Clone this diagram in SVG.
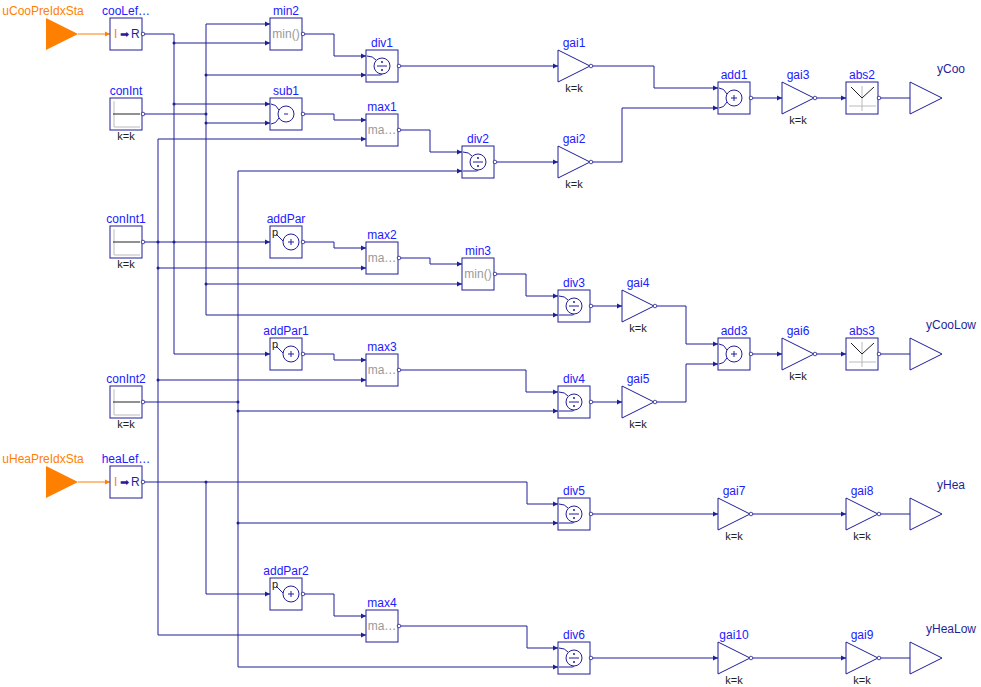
<svg xmlns="http://www.w3.org/2000/svg" xmlns:xlink="http://www.w3.org/1999/xlink" width="981" height="687" viewBox="0 0 981 687">
<style>
text{font-family:"Liberation Sans",Arial,sans-serif}
.nm{fill:#2020ff;font-size:12px;text-anchor:middle}
.kk{fill:#222;font-size:11px;text-anchor:middle}
.og{fill:#ff8000;font-size:12px;text-anchor:middle}
.bx{fill:#fff;stroke:#1f1f99;stroke-width:1}
.sy{fill:none;stroke:#1f1f99;stroke-width:1}
.gr{fill:#9a9a9a;font-size:12px;text-anchor:middle}
.w{fill:none;stroke:#1f1f99;stroke-width:1}
.wo{fill:none;stroke:#ff8000;stroke-width:1}
.dt{fill:#1f1f99}
</style>
<defs>
<marker id="ar" markerUnits="userSpaceOnUse" markerWidth="6" markerHeight="6" refX="5" refY="3" orient="auto"><path d="M0,0.5 L5,3 L0,5.5z" fill="#1f1f99"/></marker>
<marker id="ao" markerUnits="userSpaceOnUse" markerWidth="6" markerHeight="6" refX="5" refY="3" orient="auto"><path d="M0,0.5 L5,3 L0,5.5z" fill="#ff8000"/></marker>
<g id="box"><rect class="bx" x="0" y="0" width="32" height="32"/><circle cx="33" cy="16" r="1.8" fill="#fff" stroke="#1f1f99" stroke-width="0.8"/></g>
<g id="div"><use href="#box"/><circle class="sy" cx="16" cy="16" r="8"/><path class="sy" d="M1,6 Q7,6 10,10 M1,25 H14 Q16,25 16,24 M11,16 H21"/><circle cx="16" cy="12" r="1" class="dt"/><circle cx="16" cy="20" r="1" class="dt"/></g>
<g id="add"><use href="#box"/><circle class="sy" cx="16" cy="16" r="8"/><path class="sy" d="M1,6 Q6,6 9,12 M1,26 Q6,26 9,20 M13,16 H19 M16,13 V19" stroke="#222"/></g>
<g id="addp"><use href="#box"/><circle class="sy" cx="21" cy="16" r="8"/><path class="sy" d="M6,8 L13,15 M18,16 H24 M21,13 V19"/><text x="2" y="10" style="font-size:11px;fill:#222">p</text></g>
<g id="gain"><path class="sy" d="M0,0 L32,16 L0,32z" fill="#fff"/><circle cx="33" cy="16" r="1.8" fill="#fff" stroke="#1f1f99" stroke-width="0.8"/></g>
<g id="ci"><use href="#box"/><path d="M4,29 H30 M4,29 V3" stroke="#bbb" fill="none"/><path d="M3,16 H30" stroke="#222"/></g>
<g id="abs"><use href="#box"/><path d="M3,24 H30 M16,29 V4" stroke="#bbb" fill="none"/><path d="M5,5 L16,16 L28,5" stroke="#222" fill="none"/></g>
<g id="yout"><path class="sy" d="M0,0 L32,16 L0,32z"/></g>
</defs>

<g id="connectors">
<path class="wo" d="M78,34 H110" marker-end="url(#ao)"/>
<path class="wo" d="M78,482 H110" marker-end="url(#ao)"/>
<path class="w" d="M143,34 H174 V354 H270" marker-end="url(#ar)"/>
<path class="w" d="M174,43 H270" marker-end="url(#ar)"/>
<path class="w" d="M174,104 H270" marker-end="url(#ar)"/>
<path class="w" d="M143,242 H270" marker-end="url(#ar)"/>
<path class="w" d="M143,114 H206"/>
<path class="w" d="M206,24 V315 H558" marker-end="url(#ar)"/>
<path class="w" d="M206,24 H270" marker-end="url(#ar)"/>
<path class="w" d="M206,75 H366" marker-end="url(#ar)"/>
<path class="w" d="M206,123 H270" marker-end="url(#ar)"/>
<path class="w" d="M206,284 H462" marker-end="url(#ar)"/>
<path class="w" d="M158,139 V635 H366" marker-end="url(#ar)"/>
<path class="w" d="M158,139 H366" marker-end="url(#ar)"/>
<path class="w" d="M158,268 H366" marker-end="url(#ar)"/>
<path class="w" d="M158,380 H366" marker-end="url(#ar)"/>
<path class="w" d="M143,402 H238"/>
<path class="w" d="M238,171 V667 H558" marker-end="url(#ar)"/>
<path class="w" d="M238,171 H462" marker-end="url(#ar)"/>
<path class="w" d="M238,411 H558" marker-end="url(#ar)"/>
<path class="w" d="M238,523 H558" marker-end="url(#ar)"/>
<path class="w" d="M143,482 H527 V504 H558" marker-end="url(#ar)"/>
<path class="w" d="M206,482 V594 H270" marker-end="url(#ar)"/>
<path class="w" d="M302,34 H334 V56 H366" marker-end="url(#ar)"/>
<path class="w" d="M302,114 H334 V120 H366" marker-end="url(#ar)"/>
<path class="w" d="M398,130 H430 V152 H462" marker-end="url(#ar)"/>
<path class="w" d="M398,66 H558" marker-end="url(#ar)"/>
<path class="w" d="M494,162 H558" marker-end="url(#ar)"/>
<path class="w" d="M590,66 H654 V88 H718" marker-end="url(#ar)"/>
<path class="w" d="M590,162 H622 V108 H718" marker-end="url(#ar)"/>
<path class="w" d="M750,98 H782" marker-end="url(#ar)"/>
<path class="w" d="M814,98 H846" marker-end="url(#ar)"/>
<path class="w" d="M878,98 H910"/>
<path class="w" d="M302,242 H334 V248 H366" marker-end="url(#ar)"/>
<path class="w" d="M398,258 H430 V264 H462" marker-end="url(#ar)"/>
<path class="w" d="M494,274 H526 V296 H558" marker-end="url(#ar)"/>
<path class="w" d="M590,306 H622" marker-end="url(#ar)"/>
<path class="w" d="M302,354 H334 V360 H366" marker-end="url(#ar)"/>
<path class="w" d="M398,370 H526 V392 H558" marker-end="url(#ar)"/>
<path class="w" d="M590,402 H622" marker-end="url(#ar)"/>
<path class="w" d="M654,306 H686 V344 H718" marker-end="url(#ar)"/>
<path class="w" d="M654,402 H686 V364 H718" marker-end="url(#ar)"/>
<path class="w" d="M750,354 H782" marker-end="url(#ar)"/>
<path class="w" d="M814,354 H846" marker-end="url(#ar)"/>
<path class="w" d="M878,354 H910"/>
<path class="w" d="M302,594 H334 V616 H366" marker-end="url(#ar)"/>
<path class="w" d="M398,626 H527 V648 H558" marker-end="url(#ar)"/>
<path class="w" d="M590,514 H718" marker-end="url(#ar)"/>
<path class="w" d="M750,514 H846" marker-end="url(#ar)"/>
<path class="w" d="M878,514 H910"/>
<path class="w" d="M590,658 H718" marker-end="url(#ar)"/>
<path class="w" d="M750,658 H846" marker-end="url(#ar)"/>
<path class="w" d="M878,658 H910"/>
<g class="dt">
<circle cx="174" cy="43" r="1.5"/><circle cx="174" cy="104" r="1.5"/><circle cx="174" cy="242" r="1.5"/>
<circle cx="206" cy="75" r="1.5"/><circle cx="206" cy="123" r="1.5"/><circle cx="206" cy="284" r="1.5"/><circle cx="206" cy="114" r="1.5"/>
<circle cx="158" cy="242" r="1.5"/><circle cx="158" cy="268" r="1.5"/><circle cx="158" cy="380" r="1.5"/>
<circle cx="238" cy="402" r="1.5"/><circle cx="238" cy="411" r="1.5"/><circle cx="238" cy="523" r="1.5"/>
<circle cx="206" cy="482" r="1.5"/>
</g>
</g>

<g id="uCooPreIdxSta"><path d="M46,18 L78,34 L46,50z" fill="#ff8000"/><text class="og" x="43" y="15">uCooPreIdxSta</text></g>
<g id="uHeaPreIdxSta"><path d="M46,466 L78,482 L46,498z" fill="#ff8000"/><text class="og" x="43" y="463">uHeaPreIdxSta</text></g>

<g id="cooLef" transform="translate(110,18)"><use href="#box"/><text x="4" y="20" style="font-size:12px;fill:#ff8000">I</text><text x="10" y="20" style="font-size:11px;fill:#1f1f99">➡</text><text x="21" y="20" style="font-size:12px;fill:#1f1f99">R</text><text class="nm" x="16" y="-3">cooLef…</text></g>
<g id="heaLef" transform="translate(110,466)"><use href="#box"/><text x="4" y="20" style="font-size:12px;fill:#ff8000">I</text><text x="10" y="20" style="font-size:11px;fill:#1f1f99">➡</text><text x="21" y="20" style="font-size:12px;fill:#1f1f99">R</text><text class="nm" x="16" y="-3">heaLef…</text></g>
<g id="conInt" transform="translate(110,98)"><use href="#ci"/><text class="nm" x="16" y="-3">conInt</text><text class="kk" x="16" y="42">k=k</text></g>
<g id="conInt1" transform="translate(110,226)"><use href="#ci"/><text class="nm" x="16" y="-3">conInt1</text><text class="kk" x="16" y="42">k=k</text></g>
<g id="conInt2" transform="translate(110,386)"><use href="#ci"/><text class="nm" x="16" y="-3">conInt2</text><text class="kk" x="16" y="42">k=k</text></g>

<g id="min2" transform="translate(270,18)"><use href="#box"/><text class="gr" x="16" y="20">min()</text><text class="nm" x="16" y="-3">min2</text></g>
<g id="sub1" transform="translate(270,98)"><use href="#box"/><circle class="sy" cx="16" cy="16" r="8"/><path class="sy" d="M1,6 Q6,6 9,12 M1,26 Q6,26 9,20 M14,16 H18"/><text class="nm" x="16" y="-3">sub1</text></g>
<g id="div1" transform="translate(366,50)"><use href="#div"/><text class="nm" x="16" y="-3">div1</text></g>
<g id="max1" transform="translate(366,114)"><use href="#box"/><text class="gr" x="16" y="20">ma…</text><text class="nm" x="16" y="-3">max1</text></g>
<g id="div2" transform="translate(462,146)"><use href="#div"/><text class="nm" x="16" y="-3">div2</text></g>
<g id="gai1" transform="translate(558,50)"><use href="#gain"/><text class="nm" x="16" y="-3">gai1</text><text class="kk" x="16" y="42">k=k</text></g>
<g id="gai2" transform="translate(558,146)"><use href="#gain"/><text class="nm" x="16" y="-3">gai2</text><text class="kk" x="16" y="42">k=k</text></g>
<g id="add1" transform="translate(718,82)"><use href="#add"/><text class="nm" x="16" y="-3">add1</text></g>
<g id="gai3" transform="translate(782,82)"><use href="#gain"/><text class="nm" x="16" y="-3">gai3</text><text class="kk" x="16" y="42">k=k</text></g>
<g id="abs2" transform="translate(846,82)"><use href="#abs"/><text class="nm" x="16" y="-3">abs2</text></g>
<g id="yCoo" transform="translate(910,82)"><use href="#yout"/><text class="nm" x="41" y="-9" style="fill:#1f1f99">yCoo</text></g>

<g id="addPar" transform="translate(270,226)"><use href="#addp"/><text class="nm" x="16" y="-3">addPar</text></g>
<g id="max2" transform="translate(366,242)"><use href="#box"/><text class="gr" x="16" y="20">ma…</text><text class="nm" x="16" y="-3">max2</text></g>
<g id="min3" transform="translate(462,258)"><use href="#box"/><text class="gr" x="16" y="20">min()</text><text class="nm" x="16" y="-3">min3</text></g>
<g id="div3" transform="translate(558,290)"><use href="#div"/><text class="nm" x="16" y="-3">div3</text></g>
<g id="addPar1" transform="translate(270,338)"><use href="#addp"/><text class="nm" x="16" y="-3">addPar1</text></g>
<g id="max3" transform="translate(366,354)"><use href="#box"/><text class="gr" x="16" y="20">ma…</text><text class="nm" x="16" y="-3">max3</text></g>
<g id="div4" transform="translate(558,386)"><use href="#div"/><text class="nm" x="16" y="-3">div4</text></g>
<g id="gai4" transform="translate(622,290)"><use href="#gain"/><text class="nm" x="16" y="-3">gai4</text><text class="kk" x="16" y="42">k=k</text></g>
<g id="gai5" transform="translate(622,386)"><use href="#gain"/><text class="nm" x="16" y="-3">gai5</text><text class="kk" x="16" y="42">k=k</text></g>
<g id="add3" transform="translate(718,338)"><use href="#add"/><text class="nm" x="16" y="-3">add3</text></g>
<g id="gai6" transform="translate(782,338)"><use href="#gain"/><text class="nm" x="16" y="-3">gai6</text><text class="kk" x="16" y="42">k=k</text></g>
<g id="abs3" transform="translate(846,338)"><use href="#abs"/><text class="nm" x="16" y="-3">abs3</text></g>
<g id="yCooLow" transform="translate(910,338)"><use href="#yout"/><text class="nm" x="41" y="-9" style="fill:#1f1f99">yCooLow</text></g>

<g id="div5" transform="translate(558,498)"><use href="#div"/><text class="nm" x="16" y="-3">div5</text></g>
<g id="gai7" transform="translate(718,498)"><use href="#gain"/><text class="nm" x="16" y="-3">gai7</text><text class="kk" x="16" y="42">k=k</text></g>
<g id="gai8" transform="translate(846,498)"><use href="#gain"/><text class="nm" x="16" y="-3">gai8</text><text class="kk" x="16" y="42">k=k</text></g>
<g id="yHea" transform="translate(910,498)"><use href="#yout"/><text class="nm" x="41" y="-9" style="fill:#1f1f99">yHea</text></g>
<g id="addPar2" transform="translate(270,578)"><use href="#addp"/><text class="nm" x="16" y="-3">addPar2</text></g>
<g id="max4" transform="translate(366,610)"><use href="#box"/><text class="gr" x="16" y="20">ma…</text><text class="nm" x="16" y="-3">max4</text></g>
<g id="div6" transform="translate(558,642)"><use href="#div"/><text class="nm" x="16" y="-3">div6</text></g>
<g id="gai10" transform="translate(718,642)"><use href="#gain"/><text class="nm" x="16" y="-3">gai10</text><text class="kk" x="16" y="42">k=k</text></g>
<g id="gai9" transform="translate(846,642)"><use href="#gain"/><text class="nm" x="16" y="-3">gai9</text><text class="kk" x="16" y="42">k=k</text></g>
<g id="yHeaLow" transform="translate(910,642)"><use href="#yout"/><text class="nm" x="41" y="-9" style="fill:#1f1f99">yHeaLow</text></g>
</svg>
